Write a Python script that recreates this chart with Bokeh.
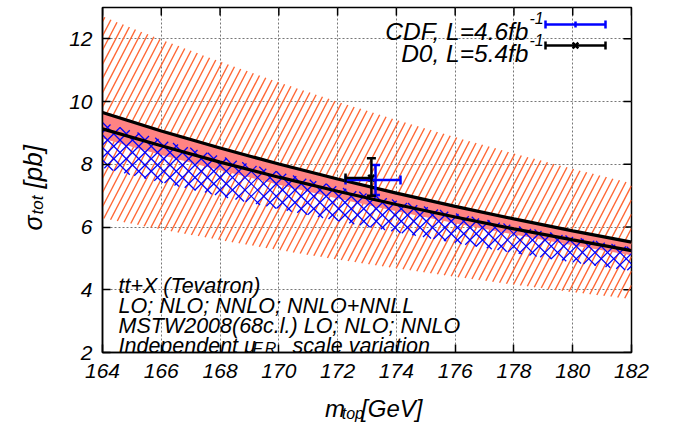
import numpy as np
from bokeh.plotting import figure
from bokeh.layouts import row, column
from bokeh.models import (Label, Whisker, ColumnDataSource, TeeHead, FixedTicker, Range1d)
from bokeh.embed import file_html
from bokeh.resources import INLINE

# ---------------- data ----------------
mtop = [164, 166, 168, 170, 172, 174, 176, 178, 180, 182]
lo_hi = [12.72, 11.98, 11.28, 10.62, 10.00, 9.42, 8.87, 8.35, 7.86, 7.40]
lo_lo = [6.28, 5.92, 5.58, 5.26, 4.96, 4.68, 4.41, 4.16, 3.92, 3.70]
nlo_hi = [9.35, 8.79, 8.26, 7.76, 7.29, 6.85, 6.44, 6.05, 5.69, 5.35]
nlo_lo = [7.88, 7.42, 6.98, 6.57, 6.19, 5.83, 5.49, 5.17, 4.87, 4.60]
nnlo_hi = [9.70, 9.11, 8.56, 8.05, 7.57, 7.12, 6.69, 6.29, 5.91, 5.55]
nnlo_lo = [8.82, 8.30, 7.81, 7.35, 6.91, 6.50, 6.12, 5.76, 5.42, 5.10]
nnll_hi = [9.65, 9.06, 8.52, 8.01, 7.53, 7.08, 6.66, 6.26, 5.88, 5.52]
nnll_lo = [9.13, 8.59, 8.07, 7.59, 7.14, 6.72, 6.32, 5.94, 5.59, 5.25]

cdf_m = [173.29]
cdf_m_lo = [172.27]
cdf_m_hi = [174.14]
cdf_s = [7.50]
cdf_s_lo = [7.02]
cdf_s_hi = [7.98]

d0_m = [173.15]
d0_m_lo = [172.27]
d0_m_hi = [173.15]
d0_s = [7.56]
d0_s_lo = [7.00]
d0_s_hi = [8.19]

x_ticks = [164, 166, 168, 170, 172, 174, 176, 178, 180, 182]
y_ticks = [2, 4, 6, 8, 10, 12]
X0, X1, Y0, Y1 = 164, 182, 2, 13

legend_texts = ["CDF, L=4.6fb", "D0, L=5.4fb"]
legend_sup = "-1"
info_lines = ["tt+X (Tevatron)", "LO; NLO; NNLO; NNLO+NNLL", "MSTW2008(68c.l.) LO; NLO; NNLO"]

# ---------------- layout ----------------
FONT = "Liberation Sans"
PW, PH = 678, 424          # whole page
YW = 50                    # y-title strip width
MW, MH = PW - YW, 392      # main figure
FL, FT, FW, FH = 52, 7, 529, 345   # frame inside main figure
SX = FW / (X1 - X0)
SY = FH / (Y1 - Y0)
ORANGE = "#ff6633"
BLUE = "#0000ff"
PINK = "#ff8383"

p = figure(width=MW, height=MH, x_range=Range1d(X0, X1), y_range=Range1d(Y0, Y1),
           output_backend="svg", toolbar_location=None,
           min_border_left=FL, min_border_right=MW - FL - FW,
           min_border_top=FT, min_border_bottom=MH - FT - FH)
p.background_fill_color = "white"
p.border_fill_color = "white"
p.outline_line_color = "black"
p.outline_line_width = 1.5

for ax in (p.xaxis[0], p.yaxis[0]):
    ax.major_tick_in = 8
    ax.major_tick_out = 0
    ax.minor_tick_in = 0
    ax.minor_tick_out = 0
    ax.axis_line_color = "black"
    ax.axis_line_width = 1.5
    ax.major_tick_line_width = 1.5
    ax.major_label_text_font = FONT
    ax.major_label_text_font_style = "italic"
    ax.major_label_text_font_size = "21px"
    ax.major_label_text_color = "black"
p.xaxis.ticker = FixedTicker(ticks=x_ticks)
p.yaxis.ticker = FixedTicker(ticks=y_ticks)
p.xaxis.major_label_standoff = 11
p.yaxis.major_label_standoff = 10

p.xgrid.ticker = FixedTicker(ticks=x_ticks)
p.ygrid.ticker = FixedTicker(ticks=y_ticks)
p.grid.grid_line_color = "#777777"
p.grid.grid_line_dash = "2 2"
p.grid.grid_line_width = 1

# mirrored inward ticks on top and right
p.segment(x_ticks, [Y1] * len(x_ticks), x_ticks, [Y1 - 8 / SY] * len(x_ticks),
          line_color="black", line_width=1.5)
p.segment([X1] * len(y_ticks), y_ticks, [X1 - 8 / SX] * len(y_ticks), y_ticks,
          line_color="black", line_width=1.5)


def hatch(xs, lo, hi, dxp, dyp, spacing):
    xs = np.asarray(xs, float)
    lo = np.asarray(lo, float)
    hi = np.asarray(hi, float)
    k = dxp / dyp
    ypix = np.arange(0, FH + 0.01, 0.25)
    yd = Y0 + ypix / SY
    ext = abs(k) * FH
    out = ([], [], [], [])
    for c in np.arange(-ext - spacing, FW + ext + spacing, spacing):
        xp = c + k * ypix
        xd = X0 + xp / SX
        m = (xp >= 0) & (xp <= FW)
        m &= (yd >= np.interp(xd, xs, lo)) & (yd <= np.interp(xd, xs, hi))
        idx = np.nonzero(m)[0]
        if len(idx) < 2:
            continue
        out[0].append(xd[idx[0]]); out[1].append(yd[idx[0]])
        out[2].append(xd[idx[-1]]); out[3].append(yd[idx[-1]])
    return out


# LO band: orange hatching
hx0, hy0, hx1, hy1 = hatch(mtop, lo_lo, lo_hi, 13, 25, 7.4)
p.segment(hx0, hy0, hx1, hy1, line_color=ORANGE, line_width=1.4)

# NNLO band: pink fill
p.varea(x=mtop, y1=nnlo_lo, y2=nnlo_hi, fill_color=PINK, fill_alpha=1.0)

# NLO band: blue cross hatching
for sgn in (1, -1):
    bx0, by0, bx1, by1 = hatch(mtop, nlo_lo, nlo_hi, sgn * 1.0, 1.0, 12.5)
    p.segment(bx0, by0, bx1, by1, line_color=BLUE, line_width=1.2)

# NNLO+NNLL: black lines
p.line(mtop, nnll_hi, line_color="black", line_width=3.2)
p.line(mtop, nnll_lo, line_color="black", line_width=3.2)

# measurements
src_cdf = ColumnDataSource(dict(m=cdf_m, mlo=cdf_m_lo, mhi=cdf_m_hi,
                                s=cdf_s, slo=cdf_s_lo, shi=cdf_s_hi))
src_d0 = ColumnDataSource(dict(m=d0_m, mlo=d0_m_lo, mhi=d0_m_hi,
                               s=d0_s, slo=d0_s_lo, shi=d0_s_hi))


def tee(col):
    return TeeHead(size=9, line_color=col, line_width=2.5)


p.add_layout(Whisker(source=src_cdf, base="s", lower="mlo", upper="mhi", dimension="width",
                     line_color=BLUE, line_width=2.5, level="overlay",
                     lower_head=tee(BLUE), upper_head=tee(BLUE)))
p.add_layout(Whisker(source=src_d0, base="s", lower="mlo", upper="mhi", dimension="width",
                     line_color="black", line_width=2.5, level="overlay",
                     lower_head=tee("black"), upper_head=None))
p.add_layout(Whisker(source=src_cdf, base="m", lower="slo", upper="shi", dimension="height",
                     line_color=BLUE, line_width=2.5, level="overlay",
                     lower_head=tee(BLUE), upper_head=tee(BLUE)))
p.add_layout(Whisker(source=src_d0, base="m", lower="slo", upper="shi", dimension="height",
                     line_color="black", line_width=2.5, level="overlay",
                     lower_head=tee("black"), upper_head=tee("black")))
p.scatter(x="m", y="s", source=src_d0, marker="x", size=9, line_color="black", line_width=2.5)


# ---------------- texts & legend ----------------
def dx(rx):
    return X0 + rx / SX


def dy(ry):
    return Y1 - ry / SY


def lab(fig, x, y, text, size, align="left", angle=0.0, xo=0, yo=0):
    fig.add_layout(Label(x=x, y=y, x_offset=xo, y_offset=yo, text=text,
                         text_font=FONT, text_font_style="italic",
                         text_font_size=f"{size}px", text_align=align,
                         text_baseline="alphabetic", angle=angle, text_color="black"))


def flab(rx, ry, text, size, align="left"):
    # position relative to the frame's top-left corner, in pixels
    lab(p, X0, Y1, text, size, align=align, xo=rx, yo=-ry)


# legend
for txt, col, base, ly in zip(legend_texts, [BLUE, "black"], [24, 46], [17, 38]):
    flab(426, base, txt, 24.5, align="right")
    flab(427, base - 14, legend_sup, 16)
    p.segment(dx(443), dy(ly), dx(503), dy(ly), line_color=col, line_width=2.5)
    p.segment([dx(443), dx(503)], [dy(ly - 4)] * 2, [dx(443), dx(503)], [dy(ly + 4)] * 2,
              line_color=col, line_width=2.5)
p.segment(dx(473), dy(17 - 3), dx(473), dy(17 + 3), line_color=BLUE, line_width=2.5)
p.scatter([dx(473)], [dy(38)], marker="x", size=8, line_color="black", line_width=2.5)

# annotation block
for i, t in enumerate(info_lines):
    flab(16, 278 + 20 * i, t, 21.5)
flab(16, 338, "Independent \u03bc", 21.5)
flab(150, 341, "F,R", 16)
flab(190, 338, "scale variation", 21.5)


# ---------------- axis titles (separate strips, page coordinates) ----------------
def strip(w, h):
    f = figure(width=w, height=h, x_range=Range1d(0, w), y_range=Range1d(0, h),
               output_backend="svg", toolbar_location=None,
               x_axis_type=None, y_axis_type=None,
               min_border_left=0, min_border_right=0, min_border_top=0, min_border_bottom=0)
    f.outline_line_color = None
    f.background_fill_color = "white"
    f.border_fill_color = "white"
    f.grid.visible = False
    return f


yl = strip(YW, PH)
lab(yl, 32, PH - 230, "\u03c3", 25, angle=np.pi / 2)
lab(yl, 37, PH - 214, "tot", 17, angle=np.pi / 2)
lab(yl, 32, PH - 188, "[pb]", 26, angle=np.pi / 2)

XH = PH - MH
xl = strip(MW, XH)
lab(xl, 314 - YW, PH - 408, "m", 24)
lab(xl, 334 - YW, PH - 413, "top", 16)
lab(xl, 357 - YW, PH - 408, "[GeV]", 24)

layout = row(yl, column(p, xl, spacing=0), spacing=0)
open("out.html", "w").write(file_html(layout, INLINE))
